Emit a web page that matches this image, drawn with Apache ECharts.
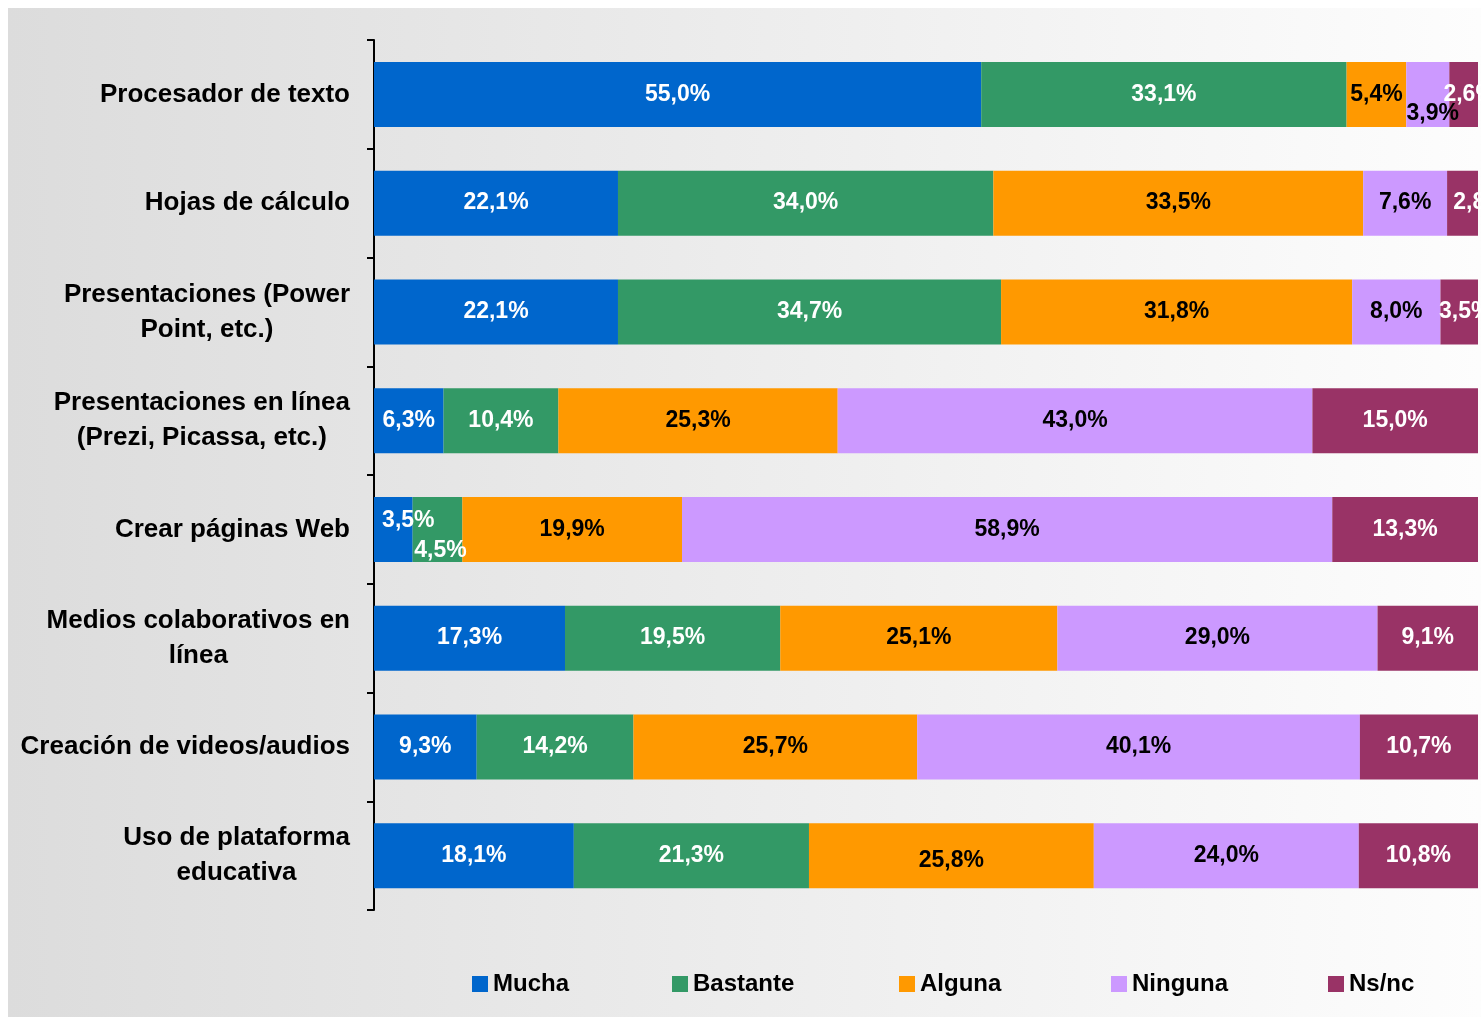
<!DOCTYPE html>
<html lang="es">
<head>
<meta charset="UTF-8">
<title>Uso de herramientas</title>
<script src="https://cdn.jsdelivr.net/npm/echarts@6/dist/echarts.min.js"></script>
<style>
  body { margin: 0; background: #fff; }
  #chart { width: 1481px; height: 1017px; }
</style>
</head>
<body>
<div id="chart"></div>
<script>
var categories = [
    'Procesador de texto',
    'Hojas de cálculo',
    'Presentaciones (Power\nPoint, etc.)',
    'Presentaciones en línea\n(Prezi, Picassa, etc.)',
    'Crear páginas Web',
    'Medios colaborativos en\nlínea',
    'Creación de videos/audios',
    'Uso de plataforma\neducativa'
];
var seriesNames = ['Mucha', 'Bastante', 'Alguna', 'Ninguna', 'Ns/nc'];
var mucha    = [55.0, 22.1, 22.1, 6.3, 3.5, 17.3, 9.3, 18.1];
var bastante = [33.1, 34.0, 34.7, 10.4, 4.5, 19.5, 14.2, 21.3];
var alguna   = [5.4, 33.5, 31.8, 25.3, 19.9, 25.1, 25.7, 25.8];
var ninguna  = [3.9, 7.6, 8.0, 43.0, 58.9, 29.0, 40.1, 24.0];
var nsnc     = [2.6, 2.8, 3.5, 15.0, 13.3, 9.1, 10.7, 10.8];

var colors = ['#0066cc', '#339966', '#ff9900', '#cc99ff', '#993366'];
var labelColors = ['#fff', '#fff', '#000', '#000', '#fff'];

// small nudges so crowded labels sit where the original has them
// key: seriesIndex + '-' + rowIndex
var labelTweaks = {
    '3-0': [5, 19],
    '4-0': [6, 0],
    '4-1': [17, 0],
    '4-2': [6, 0],
    '0-4': [15, -9],
    '1-4': [3, 21],
    '2-7': [0, 5]
};

// left edge of each legend entry
var legendLeft = [472, 672, 899, 1111, 1328];

var chart = echarts.init(document.getElementById('chart'));

var fmt = function (v) {
    return v.toFixed(1).replace('.', ',') + '%';
};

var allValues = [mucha, bastante, alguna, ninguna, nsnc];
var series = [];
for (var s = 0; s < allValues.length; s++) {
    var data = [];
    for (var i = 0; i < allValues[s].length; i++) {
        var item = { value: allValues[s][i] };
        var tw = labelTweaks[s + '-' + i];
        if (tw) item.label = { offset: tw };
        data.push(item);
    }
    series.push({
        name: seriesNames[s],
        type: 'bar',
        stack: 'total',
        barWidth: 65,
        itemStyle: { color: colors[s] },
        label: {
            show: true,
            position: 'inside',
            color: labelColors[s],
            fontFamily: 'Liberation Sans, Arial, sans-serif',
            fontWeight: 'bold',
            fontSize: 23,
            formatter: function (p) { return fmt(p.value); }
        },
        emphasis: { disabled: true },
        data: data
    });
}

var legends = seriesNames.map(function (name, k) {
    return {
        left: legendLeft[k],
        top: 972,
        padding: 0,
        itemWidth: 16,
        itemHeight: 16,
        itemGap: 6,
        icon: 'rect',
        textStyle: {
            fontFamily: 'Liberation Sans, Arial, sans-serif',
            fontWeight: 'bold',
            fontSize: 24,
            color: '#000'
        },
        data: [name]
    };
});

var option = {
    animation: false,
    graphic: [{
        type: 'rect',
        z: -10,
        silent: true,
        shape: { x: 8, y: 8, width: 1473, height: 1009 },
        style: {
            fill: new echarts.graphic.LinearGradient(0, 0, 1, 0, [
                { offset: 0, color: '#dcdcdc' },
                { offset: 1, color: '#fdfdfd' }
            ])
        }
    }],
    legend: legends,
    grid: {
        left: 374,
        right: 3,
        top: 40,
        bottom: 107,
        containLabel: false
    },
    xAxis: {
        type: 'value',
        min: 0,
        max: 100,
        show: false
    },
    yAxis: {
        type: 'category',
        inverse: true,
        data: categories,
        axisLine: { show: true, lineStyle: { color: '#000', width: 2 } },
        axisTick: { show: true, length: 7, lineStyle: { color: '#000', width: 2 } },
        axisLabel: {
            margin: 24,
            formatter: function (v) {
                return v.split('\n').map(function (l) { return '{c|' + l + '}'; }).join('\n');
            },
            rich: {
                c: {
                    align: 'center',
                    fontFamily: 'Liberation Sans, Arial, sans-serif',
                    fontWeight: 'bold',
                    fontSize: 26,
                    lineHeight: 35,
                    color: '#000'
                }
            }
        },
        splitLine: { show: false }
    },
    series: series
};

chart.setOption(option);
</script>
</body>
</html>
